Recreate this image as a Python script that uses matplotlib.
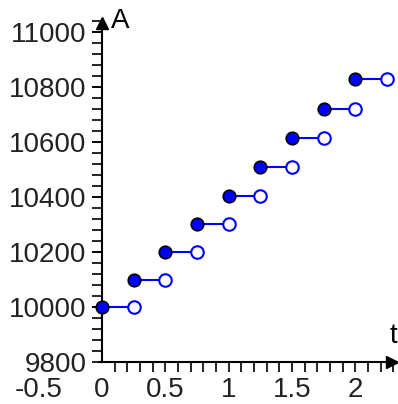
import matplotlib
matplotlib.use("Agg")
from matplotlib import pyplot as plt
from matplotlib.ticker import MultipleLocator, FixedLocator

# quarterly balance
t_start = [0, 0.25, 0.5, 0.75, 1.0, 1.25, 1.5, 1.75, 2.0]
t_end = [0.25, 0.5, 0.75, 1.0, 1.25, 1.5, 1.75, 2.0, 2.25]
balance = [10000, 10100, 10201, 10303, 10406, 10510, 10615, 10721, 10829]

x_labels = [-0.5, 0, 0.5, 1, 1.5, 2]
y_labels = [9800, 10000, 10200, 10400, 10600, 10800, 11000]

plt.rcParams['font.family'] = ['Liberation Sans', 'DejaVu Sans']
plt.rcParams['font.size'] = 20

fig = plt.figure(figsize=(3.98, 4.04), dpi=100)
ax = fig.add_axes([0, 0, 1, 1])
ax.set_xlim(-0.805, 2.336)
ax.set_ylim(9648, 11117)

blue = '#0000ff'
for a, b, v in zip(t_start, t_end, balance):
    ax.plot([a, b], [v, v], color=blue, lw=1.5, zorder=2)
ax.plot(t_end, balance, 'o', ms=9, mfc='white', mec=blue, mew=1.5, ls='none', zorder=3)
ax.plot(t_start, balance, 'o', ms=9, mfc=blue, mec='black', mew=1.2, ls='none', zorder=4)

# axes through the origin, Maple style
for s in ['top', 'right']:
    ax.spines[s].set_visible(False)
ax.spines['left'].set_position(('data', 0))
ax.spines['bottom'].set_position(('data', 9800))
ax.spines['left'].set_bounds(9800, 11045)
ax.spines['bottom'].set_bounds(-0.02, 2.32)
ax.spines['left'].set_linewidth(1.5)
ax.spines['bottom'].set_linewidth(1.5)
ax.plot([0], [11035], marker='^', color='black', ms=9, clip_on=False)
ax.plot([2.29], [9800], marker='>', color='black', ms=9, clip_on=False)

ax.xaxis.set_major_locator(FixedLocator(x_labels))
ax.xaxis.set_major_formatter(plt.FuncFormatter(lambda v, p: '%g' % v))
ax.xaxis.set_minor_locator(FixedLocator([i / 10 for i in range(1, 24)]))
ax.xaxis.remove_overlapping_locs = False
ax.tick_params(axis='x', which='major', length=0, pad=11, colors='#222222')
ax.tick_params(axis='x', which='minor', length=7, width=1.2, direction='out')

ax.yaxis.set_major_locator(FixedLocator(y_labels))
ax.yaxis.set_minor_locator(MultipleLocator(40))
ax.yaxis.remove_overlapping_locs = False
ax.tick_params(axis='y', which='major', length=7, width=1.2, pad=4, labelcolor='#222222')
ax.tick_params(axis='y', which='minor', length=7, width=1.2)
ax.set_yticks([v for v in range(9840, 11041, 40)], minor=True)

ax.text(0.07, 11040, 'A', fontsize=20, va='center', ha='left')
ax.text(2.27, 9895, 't', fontsize=20, va='center', ha='left')

fig.savefig('out.png', dpi=100)
